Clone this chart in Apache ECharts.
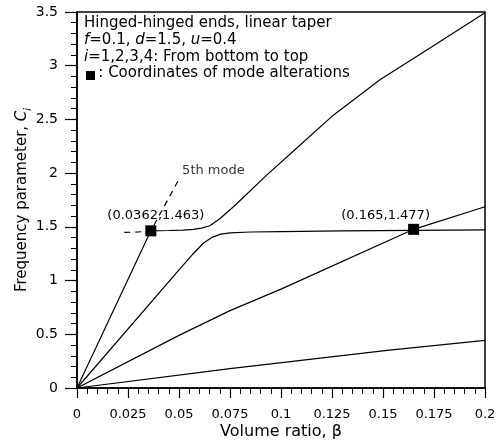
<!DOCTYPE html>
<html>
<head>
<meta charset="utf-8">
<script src="https://cdn.jsdelivr.net/npm/echarts@6/dist/echarts.min.js"></script>
<style>
    html, body { margin: 0; padding: 0; background: #fff; }
    #chart { width: 496px; height: 443px; }
</style>
</head>
<body>
<div id="chart"></div>
<script>
// mode curves (beta, C)
var mode1Beta = [0, 0.075, 0.152, 0.2];
var mode1C    = [0, 0.18, 0.35, 0.443];

var mode2Beta = [0, 0.05, 0.075, 0.1, 0.165, 0.2];
var mode2C    = [0, 0.49, 0.72, 0.92, 1.477, 1.687];

var mode3Beta = [0, 0.05, 0.057, 0.062, 0.0665, 0.0705, 0.075, 0.085, 0.1, 0.13, 0.165, 0.2];
var mode3C    = [0, 1.1, 1.25, 1.35, 1.405, 1.432, 1.444, 1.452, 1.456, 1.462, 1.468, 1.472];

var mode4Beta = [0, 0.0362, 0.045, 0.052, 0.057, 0.061, 0.0651, 0.07, 0.0767, 0.093, 0.1094, 0.1258, 0.1487, 0.1732, 0.2];
var mode4C    = [0, 1.463, 1.466, 1.47, 1.477, 1.488, 1.51, 1.575, 1.687, 1.982, 2.262, 2.542, 2.871, 3.167, 3.494];

// dashed 5th mode
var mode5Beta = [0.0232, 0.03, 0.0362, 0.0502];
var mode5C    = [1.448, 1.452, 1.463, 1.951];

// coordinates of mode alterations
var altBeta = [0.0362, 0.165];
var altC    = [1.463, 1.477];
var altText = ['(0.0362,1.463)', '(0.165,1.477)'];

var xTicks = ['0', '0.025', '0.05', '0.075', '0.1', '0.125', '0.15', '0.175', '0.2'];

function zip(xs, ys) {
    var out = [];
    for (var i = 0; i < xs.length; i++) out.push([xs[i], ys[i]]);
    return out;
}

var font = 'DejaVu Sans';
var chart = echarts.init(document.getElementById('chart'), null, {renderer: 'canvas'});

function modeLine(xs, ys) {
    return {
        type: 'line',
        data: zip(xs, ys),
        showSymbol: false,
        smooth: false,
        lineStyle: {color: '#000', width: 1.2},
        silent: true,
        z: 3
    };
}

// secondary axes only carry the small ticks
function minorAxis(max, step, pos) {
    return {
        type: 'value', min: 0, max: max, interval: step,
        position: pos,
        axisLine: {show: false, onZero: false},
        axisTick: {show: true, inside: false, length: 6, lineStyle: {color: '#000', width: 1}},
        axisLabel: {show: false},
        splitLine: {show: false}
    };
}

var option = {
    backgroundColor: '#fff',
    animation: false,
    grid: {
        left: 77, right: 11, top: 12, bottom: 55,
        containLabel: false,
        outerBoundsMode: 'none',
        show: true, borderColor: '#000', borderWidth: 1.5, backgroundColor: 'transparent'
    },
    xAxis: [{
        type: 'value',
        min: 0, max: 0.2, interval: 0.025,
        position: 'bottom',
        name: 'Volume ratio, β',
        nameLocation: 'middle',
        nameGap: 36,
        nameMoveOverlap: false,
        nameTextStyle: {fontFamily: font, fontSize: 16, color: '#000'},
        axisLine: {onZero: false, lineStyle: {color: '#000', width: 1.5}},
        axisTick: {inside: false, length: 10, lineStyle: {color: '#000', width: 1.2}},
        splitLine: {show: false},
        axisLabel: {
            margin: 20, fontFamily: font, fontSize: 13, color: '#000',
            formatter: function (v) { return xTicks[Math.round(v / 0.025)]; }
        }
    }, minorAxis(0.2, 0.005, 'bottom')],
    yAxis: [{
        type: 'value',
        min: 0, max: 3.5, interval: 0.5,
        position: 'left',
        name: 'Frequency parameter, {it|C}{sub|i}',
        nameLocation: 'middle',
        nameGap: 44,
        nameRotate: 90,
        nameMoveOverlap: false,
        nameTextStyle: {
            fontFamily: font, fontSize: 15, color: '#000', lineHeight: 22,
            rich: {
                it: {fontFamily: font, fontSize: 15, fontStyle: 'italic', color: '#000', lineHeight: 22},
                sub: {fontFamily: font, fontSize: 10, fontStyle: 'italic', color: '#000', lineHeight: 10, verticalAlign: 'bottom'}
            }
        },
        axisLine: {onZero: false, lineStyle: {color: '#000', width: 1.5}},
        axisTick: {inside: false, length: 12, lineStyle: {color: '#000', width: 1.2}},
        splitLine: {show: false},
        axisLabel: {margin: 19, fontFamily: font, fontSize: 14, color: '#000'}
    }, minorAxis(3.5, 0.1, 'left')],
    graphic: [
        {
            type: 'text', left: 84, top: 15, silent: true,
            style: {
                text: 'Hinged-hinged ends, linear taper\n' +
                      '{i|f}=0.1, {i|d}=1.5, {i|u}=0.4\n' +
                      '{i|i}=1,2,3,4: From bottom to top\n' +
                      '   : Coordinates of mode alterations',
                fontFamily: font, fontSize: 15, lineHeight: 16.7, fill: '#000',
                rich: {
                    i: {fontFamily: font, fontSize: 15, fontStyle: 'italic', lineHeight: 16.7, fill: '#000'}
                }
            }
        },
        {type: 'rect', left: 86, top: 71, shape: {width: 9, height: 9}, style: {fill: '#000'}, silent: true}
    ],
    series: [
        modeLine(mode1Beta, mode1C),
        modeLine(mode2Beta, mode2C),
        modeLine(mode3Beta, mode3C),
        modeLine(mode4Beta, mode4C),
        {
            type: 'line',
            data: zip(mode5Beta, mode5C),
            showSymbol: false,
            lineStyle: {color: '#000', width: 1.2, type: [6, 5]},
            silent: true,
            z: 3
        },
        {
            type: 'scatter',
            symbol: 'circle',
            symbolSize: 1,
            itemStyle: {color: 'rgba(0,0,0,0)'},
            data: [{
                value: [mode5Beta[mode5Beta.length - 1], mode5C[mode5C.length - 1]],
                label: {show: true, formatter: '5th mode', position: 'inside', offset: [34, -8]}
            }],
            label: {fontFamily: font, fontSize: 13, color: '#000'},
            silent: true,
            z: 4
        },
        {
            type: 'scatter',
            symbol: 'rect',
            symbolSize: 11,
            itemStyle: {color: '#000', opacity: 1},
            data: [
                {value: [altBeta[0], altC[0]], label: {show: true, formatter: altText[0], offset: [5, -15]}},
                {value: [altBeta[1], altC[1]], label: {show: true, formatter: altText[1], offset: [-28, -14]}}
            ],
            label: {position: 'inside', fontFamily: font, fontSize: 13, color: '#000'},
            silent: true,
            z: 5
        }
    ]
};
chart.setOption(option);
</script>
</body>
</html>
